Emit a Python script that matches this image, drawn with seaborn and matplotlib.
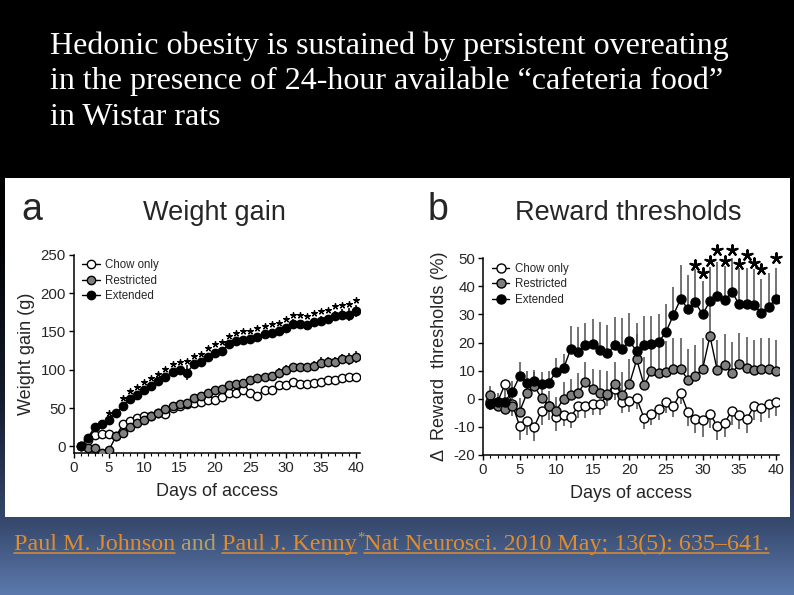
import numpy as np
import pandas as pd
import matplotlib.pyplot as plt
import seaborn as sns
from matplotlib.lines import Line2D
from matplotlib.patches import Rectangle
from matplotlib.ticker import MultipleLocator

# -- data ------------------------------------------
days = list(range(1, 41))
groups = ["Chow only", "Restricted", "Extended"]

# weight gain (g)
wg_chow = [0, 8, 15, 16, 16, 13, 29, 33, 37, 39, 40, 43, 42, 50, 53, 55, 56, 58, 61, 60,
           65, 69, 70, 73, 70, 66, 74, 73, 80, 80, 84, 81, 81, 83, 84, 87, 87, 89, 90, 91]
wg_restr = [0, -2, -2, -8, -5, 13, 18, 25, 30, 34, 40, 43, 49, 53, 55, 57, 63, 66, 70, 74,
            75, 80, 81, 83, 86, 89, 91, 92, 96, 100, 103, 103, 103, 105, 109, 110, 110, 114, 114, 117]
wg_ext = [0, 11, 25, 29, 34, 43, 53, 62, 67, 74, 79, 85, 91, 97, 99, 96, 107, 110, 117, 122,
          125, 133, 137, 139, 140, 143, 146, 148, 150, 154, 160, 159, 158, 162, 164, 166, 170, 172, 172, 177]
wg_chow_sem = [0, 2, 2, 2, 2, 3, 3, 3, 3, 3, 3, 3, 5, 3, 3, 3, 3, 3, 3, 3,
               4, 4, 4, 4, 4, 5, 4, 4, 4, 4, 4, 4, 4, 4, 4, 4, 4, 4, 4, 4]
wg_restr_sem = [0, 2, 2, 2, 3, 3, 3, 3, 3, 3, 3, 4, 4, 4, 4, 4, 4, 4, 4, 5,
                5, 5, 5, 5, 5, 5, 5, 5, 6, 6, 6, 6, 6, 6, 7, 7, 7, 7, 8, 8]
wg_ext_sem = [0, 3, 3, 3, 3, 3, 4, 4, 4, 4, 4, 4, 4, 4, 5, 10, 5, 5, 5, 5,
              5, 5, 5, 5, 5, 5, 5, 5, 5, 6, 6, 6, 6, 6, 6, 6, 7, 7, 8, 8]
wg_star_days = [5] + list(range(7, 41))

# reward thresholds (%)
rt_chow = [-1, -1, 5.1, -2, -9.6, -7.8, -9.9, -4.2, -2.5, -6.3, -5.7, -6.3, -2.7, -2.7, -1.8, -1.8, 1.5, 3.4, -1.2, -0.8,
           0.2, -6.9, -5.4, -3.6, -1.2, -2.6, 2.1, -4.8, -7.2, -7.5, -5.4, -9.7, -8.6, -4.2, -5.7, -7.3, -2.7, -3.3, -1.8, -1.2]
rt_restr = [1.4, -2.4, -3.6, -2.7, -4.6, 2, 4.6, 0.2, -2.4, -4.2, 0, 1.2, 2.2, 6, 3.6, 2.2, 1.8, 5.2, 1.4, 5.2,
            14, 4.8, 9.8, 9.2, 9.5, 10.5, 10.5, 6.8, 8.1, 10.7, 22.3, 10.1, 11.9, 9.2, 12.3, 11, 10.1, 10.5, 10.5, 9.9]
rt_ext = [-2, -1, -1, 2.5, 8, 5.8, 6.3, 5.4, 5.8, 9.6, 10.8, 17.8, 16.6, 19, 19.5, 17.5, 16.3, 19, 17.8, 20.5,
          16.9, 19.3, 19.5, 20.2, 23.8, 29.8, 35.5, 32, 34.3, 30, 34.8, 36.7, 35.1, 38, 33.6, 33.6, 33.3, 30.7, 32.7, 35.5]
rt_chow_sem = [3, 3, 3, 4, 5, 5, 5, 5, 5, 5, 4, 4, 4, 4, 4, 4, 4, 4, 4, 4,
               4, 4, 4, 4, 4, 4, 4, 5, 5, 6, 5, 5, 5, 5, 5, 5, 5, 5, 5, 5]
rt_restr_sem = [3, 3, 3, 4, 5, 5, 5, 5, 5, 5, 6, 6, 7, 7, 7, 8, 8, 8, 8, 9,
                9, 10, 11, 11, 11, 11, 11, 11, 11, 11, 12, 11, 11, 11, 11, 11, 11, 11, 11, 11]
rt_ext_sem = [3, 3, 3, 4, 5, 4, 4, 4, 4, 5, 5, 8, 9, 8, 9, 10, 10, 10, 11, 10,
              10, 10, 10, 10, 10, 10, 12, 12, 12, 12, 12, 12, 12, 12, 13, 13, 13, 12, 12, 11]
rt_star_days = [29, 30, 31, 32, 33, 34, 35, 36, 37, 38, 40]
rt_star_y = [47.6, 44.6, 49, 53, 49, 53, 47.8, 51.2, 48.2, 46.3, 50]

faces = {"Chow only": "white", "Restricted": "#7f7f7f", "Extended": "black"}
star = (5, 2, 0)  # asterisk marker for significance

W, H = 794, 595
sns.set_style("ticks")
plt.rcParams["font.family"] = ["Liberation Sans", "DejaVu Sans"]
plt.rcParams["axes.unicode_minus"] = False

fig = plt.figure(figsize=(W / 100, H / 100), dpi=100)

# -- slide background ------------------------------
bg = fig.add_axes([0, 0, 1, 1], zorder=-10)
ys = np.arange(H)
keys = [0, 230, 400, 520, 595]
cols = np.array([[0, 0, 0], [0, 0, 0], [0.08, 0.11, 0.18], [0.21, 0.28, 0.42], [0.36, 0.48, 0.68]])
grad = np.stack([np.interp(ys, keys, cols[:, k]) for k in range(3)], axis=-1)
bg.imshow(grad[:, None, :], aspect="auto", extent=[0, 1, 0, 1], origin="upper")
bg.axis("off")

fig.patches.append(Rectangle((5 / W, 1 - 516.7 / H), 785 / W, 338.7 / H,
                             transform=fig.transFigure, facecolor="white", edgecolor="none", zorder=-5))

title_lines = ["Hedonic obesity is sustained by persistent overeating",
               "in the presence of 24-hour available \u201ccafeteria food\u201d",
               "in Wistar rats"]
for i, line in enumerate(title_lines):
    fig.text(50 / W, 1 - (54 + 35.5 * i) / H, line, color="white", fontsize=23,
             family="Liberation Serif", va="baseline", ha="left")


def panel(rect, chow, restr, ext, sems, ms, one_sided):
    ax = fig.add_axes(rect)
    for name, vals, sem in zip(groups, [chow, restr, ext], sems):
        if one_sided:
            zeros = [0] * len(sem)
            yerr = [sem, zeros] if name == "Chow only" else [zeros, sem]
            ecol = "#4d4d4d"
        else:
            yerr = sem
            ecol = "black"
        ax.errorbar(days, vals, yerr=yerr, fmt="none", ecolor=ecol, elinewidth=1.1, capsize=0, zorder=1)
        sns.lineplot(x=days, y=vals, color="black", lw=1, marker="o", markersize=ms,
                     markerfacecolor=faces[name], markeredgecolor="black", markeredgewidth=1,
                     label=name, ax=ax, zorder=3)
    sns.despine(ax=ax)
    ax.set_xlim(0, 40.5)
    ax.xaxis.set_major_locator(MultipleLocator(5))
    ax.xaxis.set_minor_locator(MultipleLocator(1))
    ax.tick_params(which="major", length=3.5, width=1, labelsize=10.8, pad=2, color="black")
    ax.tick_params(which="minor", length=2, width=0.8, color="black")
    ax.tick_params(axis="y", which="minor", length=0)
    for s in ["left", "bottom"]:
        ax.spines[s].set_linewidth(1.1)
        ax.spines[s].set_color("black")
    ax.set_xlabel("Days of access", fontsize=13, labelpad=6)
    ax.legend(loc="upper left", bbox_to_anchor=(0.015, 1.0), frameon=False, fontsize=8.3,
              handlelength=1.5, handletextpad=0.5, labelspacing=0.3, borderaxespad=0)
    return ax


# -- a: weight gain --------------------------------
ax1 = panel([73.5 / W, 1 - 453.3 / H, 286.5 / W, 198.6 / H], wg_chow, wg_restr, wg_ext,
            [wg_chow_sem, wg_restr_sem, wg_ext_sem], 6, False)
ax1.set_ylim(-9, 250)
ax1.spines["left"].set_bounds(-9, 250)
ax1.set_yticks([0, 50, 100, 150, 200, 250])
ax1.set_ylabel("Weight gain (g)", fontsize=13, labelpad=4)
wg_star_y = [wg_ext[days.index(d)] + wg_ext_sem[days.index(d)] + 6 for d in wg_star_days]
ax1.scatter(wg_star_days, wg_star_y, marker=star, s=16, color="black", linewidths=1.0, zorder=4)

# -- b: reward thresholds --------------------------
ax2 = panel([483 / W, 1 - 455 / H, 296.5 / W, 196.7 / H], rt_chow, rt_restr, rt_ext,
            [rt_chow_sem, rt_restr_sem, rt_ext_sem], 6.5, True)
ax2.set_ylim(-20, 50)
ax2.set_yticks(range(-20, 51, 10))
ax2.set_ylabel("\u0394  Reward  thresholds (%)", fontsize=13, labelpad=4)
ax2.scatter(rt_star_days, rt_star_y, marker=star, s=55, color="black", linewidths=1.6, zorder=4,
            clip_on=False)

fig.text(21 / W, 1 - 220 / H, "a", fontsize=27, va="baseline")
fig.text(428 / W, 1 - 220 / H, "b", fontsize=27, va="baseline")
fig.text(214.5 / W, 1 - 220 / H, "Weight gain", fontsize=19.5, ha="center", va="baseline")
fig.text(628 / W, 1 - 220 / H, "Reward thresholds", fontsize=19.5, ha="center", va="baseline")

# -- citation footer -------------------------------
orange = "#e08c2c"
olive = "#b3a064"
pieces = [("Paul M. Johnson", orange, True, 17.3, 0),
          (" and ", olive, False, 17.3, 0),
          ("Paul J. Kenny", orange, True, 17.3, 0),
          ("*", olive, False, 10.5, 8),
          ("Nat Neurosci. 2010 May; 13(5): 635\u2013641.", orange, True, 17.3, 0)]
fig.canvas.draw()
r = fig.canvas.get_renderer()
x = 14
base = 550
for txt, c, ul, fs, rise in pieces:
    t = fig.text(x / W, 1 - (base - rise) / H, txt, color=c, fontsize=fs,
                 family="Liberation Serif", va="baseline", ha="left")
    bb = t.get_window_extent(r)
    if ul:
        fig.lines.append(Line2D([bb.x0 / W, bb.x1 / W], [1 - (base + 2.5) / H] * 2,
                                transform=fig.transFigure, color=c, lw=1.1))
    x = bb.x1

fig.savefig("out.png", dpi=100)
